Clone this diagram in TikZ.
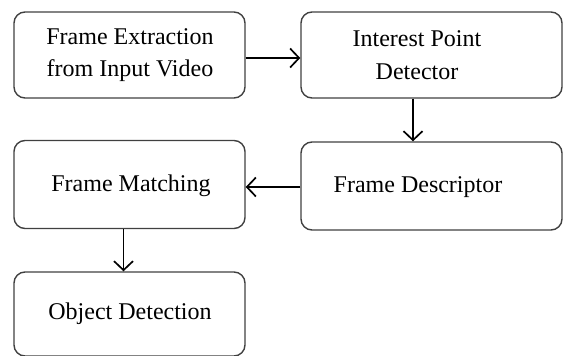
\documentclass[tikz,border=0pt]{standalone}
\usepackage{fontspec}
\setmainfont{Liberation Serif}
\usetikzlibrary{arrows.meta}
\tikzset{
  box/.style={draw=black!75, line width=1.4pt, rounded corners=11pt, inner sep=0pt},
  lbl/.style={align=center, font=\fontsize{24}{32.5}\selectfont, inner sep=0pt},
  arr/.style={line width=1.7pt, -{Straight Barb[length=9pt,width=19pt,line width=1.7pt]}}
}
\begin{document}
\begin{tikzpicture}[x=1pt,y=-1pt]
\useasboundingbox (0,0) rectangle (563,356);
\node[box, minimum width=231pt, minimum height=86pt] (a) at (129.5,55) {};
\node[box, minimum width=261pt, minimum height=86pt] (b) at (431.5,55) {};
\node[box, minimum width=231pt, minimum height=88pt] (c) at (129.5,184.5) {};
\node[box, minimum width=261pt, minimum height=88pt] (d) at (431.5,186) {};
\node[box, minimum width=231pt, minimum height=84pt] (e) at (129.5,314) {};
\node[lbl] (ta) at (130,55) {Frame Extraction\\from Input Video};
\node[lbl] (tb) at (417,55) {Interest Point\\Detector};
\node[lbl] (tc) at (131,186) {Frame Matching};
\node[lbl] (td) at (418,187) {Frame Descriptor};
\node[lbl] (te) at (130,314) {Object Detection};
\coordinate (b1) at (413,0);
\draw[arr] ([yshift=-3pt]a.east) -- ([yshift=-3pt]b.west);
\draw[arr] (b.south -| b1) -- (d.north -| b1);
\draw[arr] ([yshift=-1pt]d.west) -- ([yshift=-2.5pt]c.east);
\draw[arr] ([xshift=-6pt]c.south) -- ([xshift=-6pt]e.north);
\end{tikzpicture}
\end{document}
